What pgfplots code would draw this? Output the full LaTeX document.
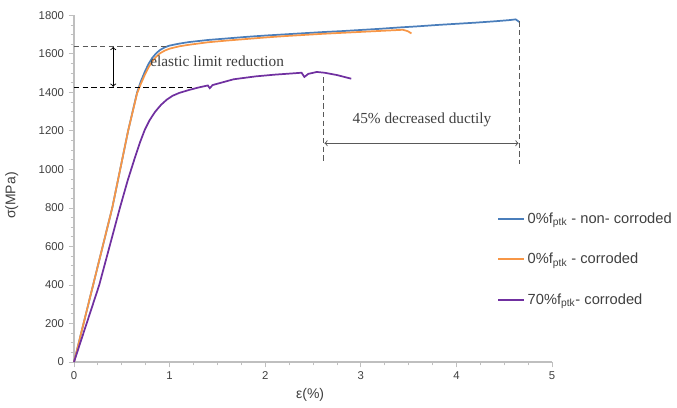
\documentclass[border=0pt]{standalone}
\usepackage{fontspec}
\setmainfont{Liberation Sans}
\newfontfamily\annotfont{Liberation Serif}
\usepackage{pgfplots}
\pgfplotsset{compat=1.18}

\definecolor{cblue}{HTML}{4A7EBB}
\definecolor{corange}{HTML}{F79646}
\definecolor{cpurple}{HTML}{7030A0}
\definecolor{axgray}{HTML}{BFBFBF}
\definecolor{lblgray}{HTML}{404040}
\definecolor{dashgray}{HTML}{595959}

\begin{document}
\begin{tikzpicture}
\useasboundingbox (-55.5pt,-33.75pt) rectangle (452.25pt,271.5pt);
\begin{axis}[
  scale only axis,
  width=358.5pt, height=260pt,
  xmin=0, xmax=5, ymin=0, ymax=1800,
  axis x line=bottom, axis y line=left,
  axis line style={-, axgray, line width=0.8pt},
  xtick={0,1,...,5}, ytick={0,200,...,1800},
  minor x tick num=3, minor y tick num=3,
  tick align=outside,
  major tick length=4pt, minor tick length=2.5pt,
  every tick/.style={axgray, line width=0.6pt},
  tick label style={font=\fontsize{8.5}{10}\selectfont, text=lblgray},
  /pgf/number format/assume math mode=true,
  /pgf/number format/1000 sep={},
  xlabel={ε(\%)}, ylabel={σ(MPa)},
  label style={font=\fontsize{10.5}{12}\selectfont, text=lblgray},
  xlabel style={at={(axis description cs:0.494,-0.095)}, anchor=center},
  ylabel style={at={(axis description cs:-0.13,0.48)}, anchor=center, rotate=0},
  legend style={at={(rel axis cs:0.885,0.44)}, anchor=north west, draw=none,
    fill=none, font=\fontsize{11}{12}\selectfont, text=lblgray,
    row sep=17pt, inner sep=0pt},
  legend cell align=left,
  legend image code/.code={\draw[#1] (0pt,0pt) -- (19.5pt,0pt);},
  clip=false,
]
\addplot[cblue, line width=1.3pt] coordinates {
  (0,0) (0.20,400) (0.40,800) (0.566,1200) (0.66,1400) (0.70,1458) (0.74,1506)
  (0.78,1548) (0.82,1580) (0.86,1603) (0.90,1620) (0.95,1634) (1.0,1643)
  (1.1,1653) (1.2,1661) (1.4,1672)
  (1.6,1680) (1.8,1688) (2.0,1695) (2.2,1701) (2.4,1707) (2.6,1713)
  (2.8,1718) (3.0,1724) (3.2,1730) (3.4,1737) (3.6,1743) (3.8,1750)
  (4.0,1756) (4.2,1762) (4.4,1769) (4.55,1775) (4.62,1779) (4.66,1765)
};
\addlegendentry{0\%f\textsubscript{ptk} - non- corroded}
\addplot[corange, line width=1.3pt] coordinates {
  (0,0) (0.20,400) (0.40,800) (0.566,1200) (0.66,1395) (0.70,1445) (0.74,1490)
  (0.78,1530) (0.82,1562) (0.86,1585) (0.90,1603) (0.95,1617) (1.0,1627)
  (1.1,1639) (1.2,1647) (1.4,1660)
  (1.6,1669) (1.8,1677) (2.0,1685) (2.2,1692) (2.4,1698) (2.6,1704)
  (2.8,1709) (3.0,1714) (3.2,1719) (3.44,1725) (3.49,1718) (3.53,1706)
};
\addlegendentry{0\%f\textsubscript{ptk} - corroded}
\addplot[cpurple, line width=1.3pt] coordinates {
  (0,0) (0.264,400) (0.48,800) (0.56,940) (0.63,1050) (0.69,1140) (0.74,1205)
  (0.79,1255) (0.85,1300) (0.91,1335) (0.97,1362) (1.03,1382) (1.1,1397)
  (1.2,1412) (1.3,1425)
  (1.40,1436) (1.42,1422) (1.45,1438) (1.67,1468) (1.9,1483) (2.1,1492)
  (2.3,1499) (2.38,1502) (2.41,1480) (2.45,1496) (2.54,1506) (2.62,1502)
  (2.75,1490) (2.90,1471)
};
\addlegendentry{70\%f\textsubscript{ptk}- corroded}

% annotations
\draw[dashgray, line width=0.8pt, dash pattern=on 4pt off 2.5pt]
  (axis cs:0,1640) -- (axis cs:0.97,1640);
\draw[black, line width=0.8pt, dash pattern=on 4pt off 2.5pt]
  (axis cs:0,1425) -- (axis cs:1.23,1425);
\draw[black, line width=0.7pt, <->, >=to]
  (axis cs:0.41,1636) -- (axis cs:0.41,1429);
\node[anchor=west, inner sep=0pt, font=\annotfont\fontsize{11.5}{13}\selectfont, text=lblgray]
  at (axis cs:0.795,1561) {elastic limit reduction};
\draw[dashgray, line width=0.8pt, dash pattern=on 4pt off 2.5pt]
  (axis cs:2.61,1478) -- (axis cs:2.61,1030);
\draw[dashgray, line width=0.8pt, dash pattern=on 4pt off 2.5pt]
  (axis cs:4.66,1768) -- (axis cs:4.66,1030);
\draw[dashgray, line width=0.7pt, <->, >=to]
  (axis cs:2.62,1136) -- (axis cs:4.65,1136);
\node[font=\annotfont\fontsize{11.5}{13}\selectfont, text=lblgray]
  at (axis cs:3.64,1255) {45\% decreased ductily};
\end{axis}
\end{tikzpicture}
\end{document}
